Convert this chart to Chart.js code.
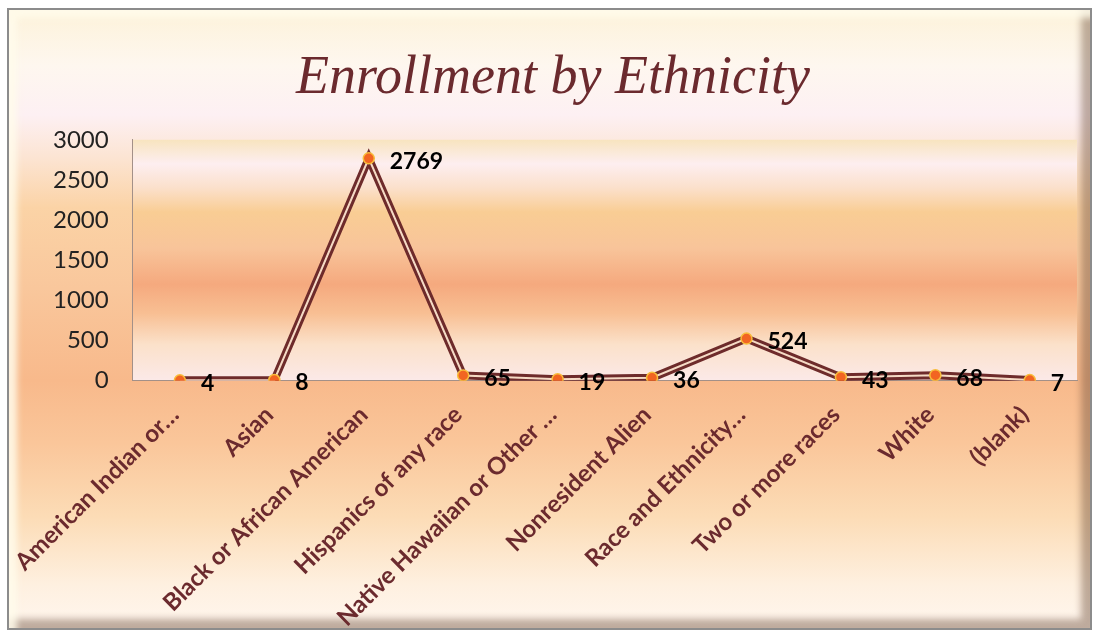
<!DOCTYPE html>
<html>
<head>
<meta charset="utf-8">
<script src="https://cdn.jsdelivr.net/npm/chart.js@4.4.0/dist/chart.umd.min.js"></script>
<style>
    body { margin: 0; background: #ffffff; }
    #frame {
        position: absolute; left: 7px; top: 8px; width: 1081px; height: 618px;
        border: 2px solid #8c8c8c;
        background: linear-gradient(to bottom, #fdf2da 0%, #fef7ef 9%, #fdf0f3 17%, #fce4d2 24%, #fbd3a6 32%, #f9c79c 45%, #f8b98b 60%, #fac69a 70%, #fcdcb6 82%, #fef0e0 93%, #fff6ee 100%);
        box-shadow: inset 8px 8px 6px rgba(255,252,235,0.85), inset -9px -9px 7px rgba(110,80,60,0.45);
    }
    #chartcontainer { position: absolute; left: 0; top: 0; width: 1081px; height: 618px; }
</style>
</head>
<body>
<div id="frame">
    <div id="chartcontainer"><canvas id="myChart"></canvas></div>
</div>
<script>
const categories = ['American Indian or…', 'Asian', 'Black or African American', 'Hispanics of any race',
    'Native Hawaiian or Other …', 'Nonresident Alien', 'Race and Ethnicity…', 'Two or more races', 'White', '(blank)'];
const enrollment = [4, 8, 2769, 65, 19, 36, 524, 43, 68, 7];
const yTicks = [0, 500, 1000, 1500, 2000, 2500, 3000];

// fondo degradado del área de trazado
const plotBackground = {
    id: 'plotBackground',
    beforeDraw(chart) {
        const { ctx, chartArea: a } = chart;
        const g = ctx.createLinearGradient(0, a.top, 0, a.bottom);
        g.addColorStop(0.00, '#f8e4bf');
        g.addColorStop(0.10, '#fdeef0');
        g.addColorStop(0.20, '#fbe0cb');
        g.addColorStop(0.30, '#f9cd94');
        g.addColorStop(0.45, '#f8c49a');
        g.addColorStop(0.60, '#f5a97e');
        g.addColorStop(0.72, '#f8bf93');
        g.addColorStop(0.85, '#fbe1ca');
        g.addColorStop(1.00, '#fbe9e8');
        ctx.save();
        ctx.fillStyle = g;
        ctx.fillRect(a.left, a.top, a.right - a.left, a.bottom - a.top);
        ctx.restore();
    }
};

// bajar un poco las etiquetas del eje X sin cambiar el alto del eje
const shiftXLabels = {
    id: 'shiftXLabels',
    afterLayout(chart) {
        const sx = chart.scales.x;
        if (sx._shifted) return;
        const orig = sx.drawLabels;
        sx.drawLabels = function (area) {
            this.ctx.save();
            this.ctx.translate(-5, 12);
            orig.call(this, area);
            this.ctx.restore();
        };
        sx._shifted = true;
    }
};

// etiquetas de valor a la derecha de cada punto
const valueLabels = {
    id: 'valueLabels',
    afterDatasetsDraw(chart) {
        const { ctx } = chart;
        const meta = chart.getDatasetMeta(0);
        ctx.save();
        ctx.font = 'bold 23px Lato';
        ctx.fillStyle = '#000000';
        ctx.textAlign = 'left';
        ctx.textBaseline = 'middle';
        meta.data.forEach((pt, i) => {
            ctx.fillText(String(enrollment[i]), pt.x + 21, pt.y + 3);
        });
        ctx.restore();
    }
};

const ctx = document.getElementById('myChart').getContext('2d');
new Chart(ctx, {
    type: 'line',
    data: {
        labels: categories,
        datasets: [
            {
                label: 'Enrollment',
                data: enrollment,
                borderColor: 'rgba(252,228,205,0.95)',
                borderWidth: 2,
                pointRadius: 5.5,
                pointBackgroundColor: '#f26522',
                pointBorderColor: '#f8bd3a',
                pointBorderWidth: 1.5,
                tension: 0
            },
            {
                label: 'Enrollment outline',
                data: enrollment,
                borderColor: '#6e2b2b',
                borderWidth: 8,
                pointRadius: 0,
                tension: 0
            }
        ]
    },
    options: {
        responsive: true,
        maintainAspectRatio: false,
        animation: false,
        layout: { padding: { left: 20, right: 13, top: 0, bottom: 0 } },
        plugins: {
            legend: { display: false },
            tooltip: { enabled: false },
            title: {
                display: true,
                text: 'Enrollment by Ethnicity',
                color: '#6b2a2e',
                font: { family: 'Liberation Serif', size: 54, style: 'italic', weight: 'normal' },
                padding: { top: 36, bottom: 29 }
            }
        },
        scales: {
            x: {
                offset: true,
                grid: { display: false, drawTicks: false },
                border: { display: true, color: '#a39088' },
                ticks: {
                    minRotation: 45, maxRotation: 45, autoSkip: false, padding: 8,
                    color: '#6b2a2e',
                    font: { family: 'Lato', size: 24, weight: 'bold' }
                }
            },
            y: {
                min: 0, max: 3000,
                afterBuildTicks(axis) { axis.ticks = yTicks.map(v => ({ value: v })); },
                grid: { display: false, drawTicks: false },
                border: { display: true, color: '#a39088' },
                ticks: {
                    padding: 24,
                    color: '#222222',
                    font: { family: 'Lato', size: 24 },
                    callback: v => String(v)
                }
            }
        }
    },
    plugins: [plotBackground, shiftXLabels, valueLabels]
});
</script>
</body>
</html>
